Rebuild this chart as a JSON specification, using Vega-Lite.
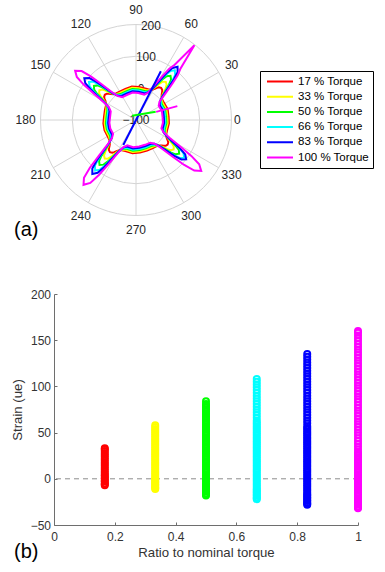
{
"$schema": "https://vega.github.io/schema/vega-lite/v6.json",
"padding": {"left": 10, "top": 0, "right": 2, "bottom": 2},
"background": "white",
"bounds": "flush",
"spacing": 54,
"config": {"view": {"stroke": null}, "font": "Liberation Sans"},
"resolve": {"scale": {"x": "independent", "y": "independent", "color": "independent"}, "legend": {"color": "independent"}},
"vconcat": [
{
"width": 164, "height": 240,
"title": {"text": "(a)", "orient": "bottom", "anchor": "start", "frame": "group", "dx": -40, "offset": -4, "baseline": "alphabetic", "fontSize": 20, "fontWeight": "normal", "font": "Liberation Sans", "color": "black"},
"layer": [
{"data": {"values": [{"ring": 0}, {"ring": 100}, {"ring": 200}]},
 "transform": [{"calculate": "datum.ring + 100", "as": "rr"}, {"calculate": "0", "as": "cx"}, {"calculate": "0", "as": "cy"}],
 "mark": {"type": "point", "shape": "circle", "filled": false, "stroke": "#d4d4d4", "strokeWidth": 1, "opacity": 1},
 "encoding": {
  "x": {"field": "cx", "type": "quantitative", "scale": {"domain": [-257.6, 257.6], "nice": false, "zero": false}, "axis": null},
  "y": {"field": "cy", "type": "quantitative", "scale": {"domain": [-377, 377], "nice": false, "zero": false}, "axis": null},
  "size": {"field": "rr", "type": "quantitative", "scale": {"type": "pow", "exponent": 2, "domain": [0, 300], "range": [0, 36481]}, "legend": null}}},
{"data": {"values": [{"a": 0}, {"a": 30}, {"a": 60}, {"a": 90}, {"a": 120}, {"a": 150}, {"a": 180}, {"a": 210}, {"a": 240}, {"a": 270}, {"a": 300}, {"a": 330}]},
 "transform": [{"calculate": "300*cos(datum.a*PI/180)", "as": "ex"}, {"calculate": "300*sin(datum.a*PI/180)", "as": "ey"}, {"calculate": "0", "as": "cx"}, {"calculate": "0", "as": "cy"}],
 "mark": {"type": "rule", "stroke": "#d4d4d4", "strokeWidth": 1},
 "encoding": {
  "x": {"field": "cx", "type": "quantitative", "scale": {"domain": [-257.6, 257.6], "nice": false, "zero": false}, "axis": null},
  "y": {"field": "cy", "type": "quantitative", "scale": {"domain": [-377, 377], "nice": false, "zero": false}, "axis": null},
  "x2": {"field": "ex"}, "y2": {"field": "ey"}}},
{"data": {"values": [{"v": -100}, {"v": 0}, {"v": 100}, {"v": 200}]},
 "transform": [{"calculate": "(datum.v+100)*cos(81*PI/180)", "as": "lx"}, {"calculate": "(datum.v+100)*sin(81*PI/180)", "as": "ly"}],
 "mark": {"type": "text", "fontSize": 12, "color": "#262626", "align": "center", "baseline": "middle", "font": "Liberation Sans"},
 "encoding": {
  "x": {"field": "lx", "type": "quantitative", "scale": {"domain": [-257.6, 257.6], "nice": false, "zero": false}, "axis": null},
  "y": {"field": "ly", "type": "quantitative", "scale": {"domain": [-377, 377], "nice": false, "zero": false}, "axis": null},
  "text": {"field": "v", "type": "quantitative"}}},
{"data": {"values": [{"a": 30}, {"a": 60}, {"a": 90}, {"a": 120}, {"a": 150}, {"a": 180}, {"a": 210}, {"a": 240}, {"a": 270}, {"a": 300}, {"a": 330}]},
 "transform": [{"calculate": "346.8*cos(datum.a*PI/180)", "as": "lx"}, {"calculate": "346.8*sin(datum.a*PI/180)", "as": "ly"}],
 "mark": {"type": "text", "fontSize": 12, "color": "#262626", "align": "center", "baseline": "middle", "font": "Liberation Sans"},
 "encoding": {
  "x": {"field": "lx", "type": "quantitative", "scale": {"domain": [-257.6, 257.6], "nice": false, "zero": false}, "axis": null},
  "y": {"field": "ly", "type": "quantitative", "scale": {"domain": [-377, 377], "nice": false, "zero": false}, "axis": null},
  "text": {"field": "a", "type": "quantitative"}}},
{"data": {"values": [{"a": 0}]},
 "transform": [{"calculate": "307.9*cos(datum.a*PI/180)", "as": "lx"}, {"calculate": "307.9*sin(datum.a*PI/180)", "as": "ly"}],
 "mark": {"type": "text", "fontSize": 12, "color": "#262626", "align": "left", "baseline": "middle", "font": "Liberation Sans"},
 "encoding": {
  "x": {"field": "lx", "type": "quantitative", "scale": {"domain": [-257.6, 257.6], "nice": false, "zero": false}, "axis": null},
  "y": {"field": "ly", "type": "quantitative", "scale": {"domain": [-377, 377], "nice": false, "zero": false}, "axis": null},
  "text": {"field": "a", "type": "quantitative"}}},
{"data": {"values": [
{"t":17,"a":6,"s":3},{"t":17,"a":19,"s":5},{"t":17,"a":32,"s":3},{"t":17,"a":38,"s":4.5},{"t":17,"a":42,"s":8},{"t":17,"a":45,"s":14.3},{"t":17,"a":47,"s":20.5},{"t":17,"a":49,"s":25.5},{"t":17,"a":52,"s":28},{"t":17,"a":55,"s":25.5},{"t":17,"a":57,"s":20.5},{"t":17,"a":59,"s":14.3},{"t":17,"a":62,"s":8},{"t":17,"a":66,"s":4.5},{"t":17,"a":72,"s":3},{"t":17,"a":85,"s":4},{"t":17,"a":97,"s":6},{"t":17,"a":109,"s":3},{"t":17,"a":121,"s":3},{"t":17,"a":127,"s":4.4},{"t":17,"a":131,"s":7.6},{"t":17,"a":134,"s":13.4},{"t":17,"a":136,"s":19.1},{"t":17,"a":138,"s":23.7},{"t":17,"a":141,"s":26},{"t":17,"a":144,"s":23.7},{"t":17,"a":146,"s":19.1},{"t":17,"a":148,"s":13.4},{"t":17,"a":151,"s":7.6},{"t":17,"a":155,"s":4.4},{"t":17,"a":161,"s":3},{"t":17,"a":174,"s":1},{"t":17,"a":186,"s":3},{"t":17,"a":198,"s":4},{"t":17,"a":211,"s":3},{"t":17,"a":217,"s":4.6},{"t":17,"a":221,"s":8.4},{"t":17,"a":224,"s":15.2},{"t":17,"a":226,"s":21.9},{"t":17,"a":228,"s":27.3},{"t":17,"a":231,"s":30},{"t":17,"a":234,"s":27.3},{"t":17,"a":236,"s":21.9},{"t":17,"a":238,"s":15.2},{"t":17,"a":241,"s":8.4},{"t":17,"a":245,"s":4.6},{"t":17,"a":251,"s":3},{"t":17,"a":264,"s":5},{"t":17,"a":277,"s":3},{"t":17,"a":290,"s":2},{"t":17,"a":302,"s":3},{"t":17,"a":308,"s":4.4},{"t":17,"a":312,"s":7.6},{"t":17,"a":315,"s":13.4},{"t":17,"a":317,"s":19.1},{"t":17,"a":319,"s":23.7},{"t":17,"a":322,"s":26},{"t":17,"a":325,"s":23.7},{"t":17,"a":327,"s":19.1},{"t":17,"a":329,"s":13.4},{"t":17,"a":332,"s":7.6},{"t":17,"a":336,"s":4.4},{"t":17,"a":342,"s":3},{"t":17,"a":354,"s":4},{"t":17,"a":366,"s":3},
{"t":33,"a":6,"s":-1},{"t":33,"a":19,"s":1},{"t":33,"a":32,"s":-1},{"t":33,"a":38,"s":2.2},{"t":33,"a":42,"s":9.6},{"t":33,"a":45,"s":22.9},{"t":33,"a":47,"s":36.1},{"t":33,"a":49,"s":46.7},{"t":33,"a":52,"s":52},{"t":33,"a":55,"s":46.7},{"t":33,"a":57,"s":36.1},{"t":33,"a":59,"s":22.9},{"t":33,"a":62,"s":9.6},{"t":33,"a":66,"s":2.2},{"t":33,"a":72,"s":-1},{"t":33,"a":85,"s":0},{"t":33,"a":97,"s":2},{"t":33,"a":109,"s":-1},{"t":33,"a":121,"s":-1},{"t":33,"a":127,"s":1.9},{"t":33,"a":131,"s":8.8},{"t":33,"a":134,"s":21.1},{"t":33,"a":136,"s":33.3},{"t":33,"a":138,"s":43.1},{"t":33,"a":141,"s":48},{"t":33,"a":144,"s":43.1},{"t":33,"a":146,"s":33.3},{"t":33,"a":148,"s":21.1},{"t":33,"a":151,"s":8.8},{"t":33,"a":155,"s":1.9},{"t":33,"a":161,"s":-1},{"t":33,"a":174,"s":-3},{"t":33,"a":186,"s":-1},{"t":33,"a":198,"s":0},{"t":33,"a":211,"s":-1},{"t":33,"a":217,"s":2.4},{"t":33,"a":221,"s":10.4},{"t":33,"a":224,"s":24.7},{"t":33,"a":226,"s":38.9},{"t":33,"a":228,"s":50.3},{"t":33,"a":231,"s":56},{"t":33,"a":234,"s":50.3},{"t":33,"a":236,"s":38.9},{"t":33,"a":238,"s":24.7},{"t":33,"a":241,"s":10.4},{"t":33,"a":245,"s":2.4},{"t":33,"a":251,"s":-1},{"t":33,"a":264,"s":1},{"t":33,"a":277,"s":-1},{"t":33,"a":290,"s":-2},{"t":33,"a":302,"s":-1},{"t":33,"a":308,"s":2.1},{"t":33,"a":312,"s":9.2},{"t":33,"a":315,"s":22},{"t":33,"a":317,"s":34.7},{"t":33,"a":319,"s":44.9},{"t":33,"a":322,"s":50},{"t":33,"a":325,"s":44.9},{"t":33,"a":327,"s":34.7},{"t":33,"a":329,"s":22},{"t":33,"a":332,"s":9.2},{"t":33,"a":336,"s":2.1},{"t":33,"a":342,"s":-1},{"t":33,"a":354,"s":0},{"t":33,"a":366,"s":-1},
{"t":50,"a":6,"s":-5},{"t":50,"a":19,"s":-3},{"t":50,"a":32,"s":-5},{"t":50,"a":38,"s":-0.1},{"t":50,"a":42,"s":11.2},{"t":50,"a":45,"s":31.5},{"t":50,"a":47,"s":51.7},{"t":50,"a":49,"s":67.9},{"t":50,"a":52,"s":76},{"t":50,"a":55,"s":67.9},{"t":50,"a":57,"s":51.7},{"t":50,"a":59,"s":31.5},{"t":50,"a":62,"s":11.2},{"t":50,"a":66,"s":-0.1},{"t":50,"a":72,"s":-5},{"t":50,"a":85,"s":-4},{"t":50,"a":97,"s":-2},{"t":50,"a":109,"s":-5},{"t":50,"a":121,"s":-5},{"t":50,"a":127,"s":-0.5},{"t":50,"a":131,"s":10},{"t":50,"a":134,"s":28.8},{"t":50,"a":136,"s":47.5},{"t":50,"a":138,"s":62.5},{"t":50,"a":141,"s":70},{"t":50,"a":144,"s":62.5},{"t":50,"a":146,"s":47.5},{"t":50,"a":148,"s":28.8},{"t":50,"a":151,"s":10},{"t":50,"a":155,"s":-0.5},{"t":50,"a":161,"s":-5},{"t":50,"a":174,"s":-7},{"t":50,"a":186,"s":-5},{"t":50,"a":198,"s":-4},{"t":50,"a":211,"s":-5},{"t":50,"a":217,"s":0.2},{"t":50,"a":221,"s":12.4},{"t":50,"a":224,"s":34.2},{"t":50,"a":226,"s":55.9},{"t":50,"a":228,"s":73.3},{"t":50,"a":231,"s":82},{"t":50,"a":234,"s":73.3},{"t":50,"a":236,"s":55.9},{"t":50,"a":238,"s":34.2},{"t":50,"a":241,"s":12.4},{"t":50,"a":245,"s":0.2},{"t":50,"a":251,"s":-5},{"t":50,"a":264,"s":-3},{"t":50,"a":277,"s":-5},{"t":50,"a":290,"s":-6},{"t":50,"a":302,"s":-5},{"t":50,"a":308,"s":-0.4},{"t":50,"a":312,"s":10.4},{"t":50,"a":315,"s":29.7},{"t":50,"a":317,"s":48.9},{"t":50,"a":319,"s":64.3},{"t":50,"a":322,"s":72},{"t":50,"a":325,"s":64.3},{"t":50,"a":327,"s":48.9},{"t":50,"a":329,"s":29.7},{"t":50,"a":332,"s":10.4},{"t":50,"a":336,"s":-0.4},{"t":50,"a":342,"s":-5},{"t":50,"a":354,"s":-4},{"t":50,"a":366,"s":-5},
{"t":66,"a":6,"s":-8},{"t":66,"a":19,"s":-6},{"t":66,"a":32,"s":-8},{"t":66,"a":38,"s":-1.6},{"t":66,"a":42,"s":13.2},{"t":66,"a":45,"s":39.7},{"t":66,"a":47,"s":66.2},{"t":66,"a":49,"s":87.4},{"t":66,"a":52,"s":98},{"t":66,"a":55,"s":87.4},{"t":66,"a":57,"s":66.2},{"t":66,"a":59,"s":39.7},{"t":66,"a":62,"s":13.2},{"t":66,"a":66,"s":-1.6},{"t":66,"a":72,"s":-8},{"t":66,"a":85,"s":-7},{"t":66,"a":97,"s":-5},{"t":66,"a":109,"s":-8},{"t":66,"a":121,"s":-8},{"t":66,"a":127,"s":-2.1},{"t":66,"a":131,"s":11.6},{"t":66,"a":134,"s":36.1},{"t":66,"a":136,"s":60.6},{"t":66,"a":138,"s":80.2},{"t":66,"a":141,"s":90},{"t":66,"a":144,"s":80.2},{"t":66,"a":146,"s":60.6},{"t":66,"a":148,"s":36.1},{"t":66,"a":151,"s":11.6},{"t":66,"a":155,"s":-2.1},{"t":66,"a":161,"s":-8},{"t":66,"a":174,"s":-10},{"t":66,"a":186,"s":-8},{"t":66,"a":198,"s":-7},{"t":66,"a":211,"s":-8},{"t":66,"a":217,"s":-1.3},{"t":66,"a":221,"s":14.4},{"t":66,"a":224,"s":42.4},{"t":66,"a":226,"s":70.4},{"t":66,"a":228,"s":92.8},{"t":66,"a":231,"s":104},{"t":66,"a":234,"s":92.8},{"t":66,"a":236,"s":70.4},{"t":66,"a":238,"s":42.4},{"t":66,"a":241,"s":14.4},{"t":66,"a":245,"s":-1.3},{"t":66,"a":251,"s":-8},{"t":66,"a":264,"s":-6},{"t":66,"a":277,"s":-8},{"t":66,"a":290,"s":-9},{"t":66,"a":302,"s":-8},{"t":66,"a":308,"s":-2},{"t":66,"a":312,"s":12},{"t":66,"a":315,"s":37},{"t":66,"a":317,"s":62},{"t":66,"a":319,"s":82},{"t":66,"a":322,"s":92},{"t":66,"a":325,"s":82},{"t":66,"a":327,"s":62},{"t":66,"a":329,"s":37},{"t":66,"a":332,"s":12},{"t":66,"a":336,"s":-2},{"t":66,"a":342,"s":-8},{"t":66,"a":354,"s":-7},{"t":66,"a":366,"s":-8},
{"t":83,"a":6,"s":-12},{"t":83,"a":19,"s":-10},{"t":83,"a":32,"s":-12},{"t":83,"a":38,"s":-4.6},{"t":83,"a":42,"s":12.8},{"t":83,"a":45,"s":43.8},{"t":83,"a":47,"s":74.8},{"t":83,"a":49,"s":99.6},{"t":83,"a":52,"s":112},{"t":83,"a":55,"s":99.6},{"t":83,"a":57,"s":74.8},{"t":83,"a":59,"s":43.8},{"t":83,"a":62,"s":12.8},{"t":83,"a":66,"s":-4.6},{"t":83,"a":72,"s":-12},{"t":83,"a":85,"s":-11},{"t":83,"a":97,"s":-9},{"t":83,"a":109,"s":-12},{"t":83,"a":121,"s":-12},{"t":83,"a":127,"s":-4.7},{"t":83,"a":131,"s":12.2},{"t":83,"a":134,"s":42.5},{"t":83,"a":136,"s":72.7},{"t":83,"a":138,"s":96.9},{"t":83,"a":141,"s":109},{"t":83,"a":144,"s":96.9},{"t":83,"a":146,"s":72.7},{"t":83,"a":148,"s":42.5},{"t":83,"a":151,"s":12.2},{"t":83,"a":155,"s":-4.7},{"t":83,"a":161,"s":-12},{"t":83,"a":174,"s":-14},{"t":83,"a":186,"s":-12},{"t":83,"a":198,"s":-11},{"t":83,"a":211,"s":-12},{"t":83,"a":217,"s":-4.2},{"t":83,"a":221,"s":14},{"t":83,"a":224,"s":46.5},{"t":83,"a":226,"s":79},{"t":83,"a":228,"s":105},{"t":83,"a":231,"s":118},{"t":83,"a":234,"s":105},{"t":83,"a":236,"s":79},{"t":83,"a":238,"s":46.5},{"t":83,"a":241,"s":14},{"t":83,"a":245,"s":-4.2},{"t":83,"a":251,"s":-12},{"t":83,"a":264,"s":-10},{"t":83,"a":277,"s":-12},{"t":83,"a":290,"s":-13},{"t":83,"a":302,"s":-12},{"t":83,"a":308,"s":-5.3},{"t":83,"a":312,"s":10.4},{"t":83,"a":315,"s":38.4},{"t":83,"a":317,"s":66.4},{"t":83,"a":319,"s":88.8},{"t":83,"a":322,"s":100},{"t":83,"a":325,"s":88.8},{"t":83,"a":327,"s":66.4},{"t":83,"a":329,"s":38.4},{"t":83,"a":332,"s":10.4},{"t":83,"a":336,"s":-5.3},{"t":83,"a":342,"s":-12},{"t":83,"a":354,"s":-11},{"t":83,"a":366,"s":-12},
{"t":100,"a":6,"s":-16},{"t":100,"a":19,"s":-14},{"t":100,"a":32,"s":-16},{"t":100,"a":38,"s":-6},{"t":100,"a":42,"s":24},{"t":100,"a":45,"s":62},{"t":100,"a":47,"s":92},{"t":100,"a":49,"s":112},{"t":100,"a":52,"s":198},{"t":100,"a":55,"s":112},{"t":100,"a":57,"s":92},{"t":100,"a":59,"s":62},{"t":100,"a":62,"s":24},{"t":100,"a":66,"s":-6},{"t":100,"a":72,"s":-16},{"t":100,"a":85,"s":-15},{"t":100,"a":97,"s":-13},{"t":100,"a":109,"s":-16},{"t":100,"a":121,"s":-16},{"t":100,"a":127,"s":-6.3},{"t":100,"a":131,"s":16.4},{"t":100,"a":134,"s":56.9},{"t":100,"a":136,"s":97.4},{"t":100,"a":138,"s":129.8},{"t":100,"a":141,"s":146},{"t":100,"a":144,"s":129.8},{"t":100,"a":146,"s":97.4},{"t":100,"a":148,"s":56.9},{"t":100,"a":151,"s":16.4},{"t":100,"a":155,"s":-6.3},{"t":100,"a":161,"s":-16},{"t":100,"a":174,"s":-18},{"t":100,"a":186,"s":-16},{"t":100,"a":198,"s":-15},{"t":100,"a":211,"s":-16},{"t":100,"a":217,"s":-5.3},{"t":100,"a":221,"s":19.6},{"t":100,"a":224,"s":64.1},{"t":100,"a":226,"s":108.6},{"t":100,"a":228,"s":144.2},{"t":100,"a":231,"s":162},{"t":100,"a":234,"s":144.2},{"t":100,"a":236,"s":108.6},{"t":100,"a":238,"s":64.1},{"t":100,"a":241,"s":19.6},{"t":100,"a":245,"s":-5.3},{"t":100,"a":251,"s":-16},{"t":100,"a":264,"s":-14},{"t":100,"a":277,"s":-16},{"t":100,"a":290,"s":-17},{"t":100,"a":302,"s":-16},{"t":100,"a":308,"s":-5.4},{"t":100,"a":312,"s":19.2},{"t":100,"a":315,"s":63.2},{"t":100,"a":317,"s":107.2},{"t":100,"a":319,"s":142.4},{"t":100,"a":322,"s":160},{"t":100,"a":325,"s":142.4},{"t":100,"a":327,"s":107.2},{"t":100,"a":329,"s":63.2},{"t":100,"a":332,"s":19.2},{"t":100,"a":336,"s":-5.4},{"t":100,"a":342,"s":-16},{"t":100,"a":354,"s":-15},{"t":100,"a":366,"s":-16}
]},
 "transform": [{"calculate": "(datum.s+100)*cos(datum.a*PI/180)", "as": "px"}, {"calculate": "(datum.s+100)*sin(datum.a*PI/180)", "as": "py"}],
 "mark": {"type": "line", "strokeWidth": 2},
 "encoding": {
  "x": {"field": "px", "type": "quantitative", "scale": {"domain": [-257.6, 257.6], "nice": false, "zero": false}, "axis": null},
  "y": {"field": "py", "type": "quantitative", "scale": {"domain": [-377, 377], "nice": false, "zero": false}, "axis": null},
  "order": {"field": "a", "type": "quantitative"},
  "color": {"field": "t", "type": "nominal",
   "scale": {"domain": [17, 33, 50, 66, 83, 100], "range": ["#ff0000", "#ffff00", "#00ff00", "#00ffff", "#0000ff", "#ff00ff"]},
   "legend": {"orient": "none", "legendX": 206, "legendY": 71, "direction": "vertical", "title": null,
    "labelExpr": "datum.label + ' % Torque'", "symbolType": "stroke", "symbolSize": 676, "symbolStrokeWidth": 2,
    "clipHeight": 13, "rowPadding": 2.2, "labelFontSize": 11.5, "labelFont": "Liberation Sans", "labelColor": "black",
    "strokeColor": "black", "fillColor": "white", "padding": 4, "labelOffset": 4, "symbolOffset": 2, "cornerRadius": 0}}}},
{"data": {"values": [
{"t":83,"i":0,"a":243,"s":-12},{"t":83,"i":1,"a":63,"s":72},
{"t":50,"i":0,"a":133,"s":-82},{"t":50,"i":1,"a":23,"s":-33},
{"t":100,"i":0,"a":22,"s":-32},{"t":100,"i":1,"a":18.6,"s":37}
]},
 "transform": [{"calculate": "(datum.s+100)*cos(datum.a*PI/180)", "as": "px"}, {"calculate": "(datum.s+100)*sin(datum.a*PI/180)", "as": "py"}],
 "mark": {"type": "line", "strokeWidth": 2},
 "encoding": {
  "x": {"field": "px", "type": "quantitative", "scale": {"domain": [-257.6, 257.6], "nice": false, "zero": false}, "axis": null},
  "y": {"field": "py", "type": "quantitative", "scale": {"domain": [-377, 377], "nice": false, "zero": false}, "axis": null},
  "order": {"field": "i", "type": "quantitative"},
  "color": {"field": "t", "type": "nominal", "scale": {"domain": [17, 33, 50, 66, 83, 100], "range": ["#ff0000", "#ffff00", "#00ff00", "#00ffff", "#0000ff", "#ff00ff"]}}}}
]
},
{
"width": 304, "height": 231,
"title": {"text": "(b)", "orient": "bottom", "anchor": "start", "frame": "group", "dx": -40, "offset": 0, "baseline": "alphabetic", "fontSize": 20, "fontWeight": "normal", "font": "Liberation Sans", "color": "black"},
"layer": [
{"data": {"values": [{"ref": 0}]},
 "mark": {"type": "rule", "stroke": "#8c8c8c", "strokeDash": [5, 4], "strokeWidth": 1},
 "encoding": {"y": {"field": "ref", "type": "quantitative", "scale": {"domain": [-50, 200], "nice": false, "zero": false}}}},
{"data": {"values": [
{"r":0.167,"v":-7},{"r":0.167,"v":-6},{"r":0.167,"v":-5},{"r":0.167,"v":-3},{"r":0.167,"v":-2},{"r":0.167,"v":0},{"r":0.167,"v":1},{"r":0.167,"v":3},{"r":0.167,"v":4},{"r":0.167,"v":6},{"r":0.167,"v":8},{"r":0.167,"v":10},{"r":0.167,"v":12},{"r":0.167,"v":14},{"r":0.167,"v":16},{"r":0.167,"v":18},{"r":0.167,"v":20},{"r":0.167,"v":22},{"r":0.167,"v":24},{"r":0.167,"v":26},{"r":0.167,"v":28},{"r":0.167,"v":30},{"r":0.167,"v":32},{"r":0.167,"v":33},
{"r":0.333,"v":-11},{"r":0.333,"v":-10},{"r":0.333,"v":-9},{"r":0.333,"v":-7},{"r":0.333,"v":-6},{"r":0.333,"v":-4},{"r":0.333,"v":-3},{"r":0.333,"v":-1},{"r":0.333,"v":0},{"r":0.333,"v":2},{"r":0.333,"v":4},{"r":0.333,"v":6},{"r":0.333,"v":8},{"r":0.333,"v":10},{"r":0.333,"v":12},{"r":0.333,"v":14},{"r":0.333,"v":16},{"r":0.333,"v":18},{"r":0.333,"v":20},{"r":0.333,"v":22},{"r":0.333,"v":24},{"r":0.333,"v":26},{"r":0.333,"v":28},{"r":0.333,"v":30},{"r":0.333,"v":32},{"r":0.333,"v":34},{"r":0.333,"v":36},{"r":0.333,"v":38},{"r":0.333,"v":40},{"r":0.333,"v":42},{"r":0.333,"v":44},{"r":0.333,"v":46},{"r":0.333,"v":48},{"r":0.333,"v":50},{"r":0.333,"v":52},{"r":0.333,"v":54},{"r":0.333,"v":56},{"r":0.333,"v":58},
{"r":0.5,"v":-18},{"r":0.5,"v":-17},{"r":0.5,"v":-16},{"r":0.5,"v":-14},{"r":0.5,"v":-13},{"r":0.5,"v":-11},{"r":0.5,"v":-10},{"r":0.5,"v":-8},{"r":0.5,"v":-7},{"r":0.5,"v":-5},{"r":0.5,"v":-3},{"r":0.5,"v":-1},{"r":0.5,"v":1},{"r":0.5,"v":3},{"r":0.5,"v":5},{"r":0.5,"v":7},{"r":0.5,"v":9},{"r":0.5,"v":11},{"r":0.5,"v":13},{"r":0.5,"v":15},{"r":0.5,"v":17},{"r":0.5,"v":19},{"r":0.5,"v":21},{"r":0.5,"v":23},{"r":0.5,"v":25},{"r":0.5,"v":27},{"r":0.5,"v":29},{"r":0.5,"v":31},{"r":0.5,"v":33},{"r":0.5,"v":35},{"r":0.5,"v":37},{"r":0.5,"v":39},{"r":0.5,"v":41},{"r":0.5,"v":43},{"r":0.5,"v":45},{"r":0.5,"v":47},{"r":0.5,"v":49},{"r":0.5,"v":51},{"r":0.5,"v":53},{"r":0.5,"v":55},{"r":0.5,"v":57},{"r":0.5,"v":59},{"r":0.5,"v":61},{"r":0.5,"v":63},{"r":0.5,"v":65},{"r":0.5,"v":67},{"r":0.5,"v":69},{"r":0.5,"v":71},{"r":0.5,"v":73},{"r":0.5,"v":75},{"r":0.5,"v":77},{"r":0.5,"v":79},{"r":0.5,"v":81},{"r":0.5,"v":84},
{"r":0.667,"v":-22},{"r":0.667,"v":-21},{"r":0.667,"v":-20},{"r":0.667,"v":-18},{"r":0.667,"v":-17},{"r":0.667,"v":-15},{"r":0.667,"v":-14},{"r":0.667,"v":-12},{"r":0.667,"v":-11},{"r":0.667,"v":-9},{"r":0.667,"v":-7},{"r":0.667,"v":-5},{"r":0.667,"v":-3},{"r":0.667,"v":-1},{"r":0.667,"v":1},{"r":0.667,"v":3},{"r":0.667,"v":5},{"r":0.667,"v":7},{"r":0.667,"v":9},{"r":0.667,"v":11},{"r":0.667,"v":13},{"r":0.667,"v":15},{"r":0.667,"v":17},{"r":0.667,"v":19},{"r":0.667,"v":21},{"r":0.667,"v":23},{"r":0.667,"v":25},{"r":0.667,"v":27},{"r":0.667,"v":29},{"r":0.667,"v":31},{"r":0.667,"v":33},{"r":0.667,"v":35},{"r":0.667,"v":37},{"r":0.667,"v":39},{"r":0.667,"v":41},{"r":0.667,"v":43},{"r":0.667,"v":45},{"r":0.667,"v":47},{"r":0.667,"v":49},{"r":0.667,"v":51},{"r":0.667,"v":53},{"r":0.667,"v":55},{"r":0.667,"v":57},{"r":0.667,"v":59},{"r":0.667,"v":61},{"r":0.667,"v":63},{"r":0.667,"v":66},{"r":0.667,"v":69},{"r":0.667,"v":72},{"r":0.667,"v":75},{"r":0.667,"v":78},{"r":0.667,"v":81},{"r":0.667,"v":84},{"r":0.667,"v":87},{"r":0.667,"v":90},{"r":0.667,"v":93},{"r":0.667,"v":96},{"r":0.667,"v":99},{"r":0.667,"v":102},{"r":0.667,"v":105},{"r":0.667,"v":108},
{"r":0.833,"v":-28},{"r":0.833,"v":-27},{"r":0.833,"v":-26},{"r":0.833,"v":-24},{"r":0.833,"v":-23},{"r":0.833,"v":-21},{"r":0.833,"v":-20},{"r":0.833,"v":-18},{"r":0.833,"v":-17},{"r":0.833,"v":-15},{"r":0.833,"v":-13},{"r":0.833,"v":-11},{"r":0.833,"v":-9},{"r":0.833,"v":-7},{"r":0.833,"v":-5},{"r":0.833,"v":-3},{"r":0.833,"v":-1},{"r":0.833,"v":1},{"r":0.833,"v":3},{"r":0.833,"v":5},{"r":0.833,"v":7},{"r":0.833,"v":9},{"r":0.833,"v":11},{"r":0.833,"v":13},{"r":0.833,"v":15},{"r":0.833,"v":17},{"r":0.833,"v":19},{"r":0.833,"v":21},{"r":0.833,"v":23},{"r":0.833,"v":25},{"r":0.833,"v":27},{"r":0.833,"v":29},{"r":0.833,"v":31},{"r":0.833,"v":33},{"r":0.833,"v":35},{"r":0.833,"v":37},{"r":0.833,"v":39},{"r":0.833,"v":41},{"r":0.833,"v":43},{"r":0.833,"v":45},{"r":0.833,"v":47},{"r":0.833,"v":49},{"r":0.833,"v":51},{"r":0.833,"v":53},{"r":0.833,"v":55},{"r":0.833,"v":57},{"r":0.833,"v":60},{"r":0.833,"v":63},{"r":0.833,"v":66},{"r":0.833,"v":69},{"r":0.833,"v":72},{"r":0.833,"v":75},{"r":0.833,"v":78},{"r":0.833,"v":81},{"r":0.833,"v":84},{"r":0.833,"v":87},{"r":0.833,"v":90},{"r":0.833,"v":93},{"r":0.833,"v":96},{"r":0.833,"v":99},{"r":0.833,"v":102},{"r":0.833,"v":105},{"r":0.833,"v":108},{"r":0.833,"v":111},{"r":0.833,"v":114},{"r":0.833,"v":117},{"r":0.833,"v":120},{"r":0.833,"v":123},{"r":0.833,"v":126},{"r":0.833,"v":129},{"r":0.833,"v":132},{"r":0.833,"v":135},
{"r":1,"v":-32},{"r":1,"v":-31},{"r":1,"v":-30},{"r":1,"v":-28},{"r":1,"v":-27},{"r":1,"v":-25},{"r":1,"v":-24},{"r":1,"v":-22},{"r":1,"v":-21},{"r":1,"v":-19},{"r":1,"v":-17},{"r":1,"v":-15},{"r":1,"v":-13},{"r":1,"v":-11},{"r":1,"v":-9},{"r":1,"v":-7},{"r":1,"v":-5},{"r":1,"v":-3},{"r":1,"v":-1},{"r":1,"v":1},{"r":1,"v":3},{"r":1,"v":5},{"r":1,"v":7},{"r":1,"v":9},{"r":1,"v":11},{"r":1,"v":13},{"r":1,"v":15},{"r":1,"v":17},{"r":1,"v":19},{"r":1,"v":21},{"r":1,"v":23},{"r":1,"v":25},{"r":1,"v":27},{"r":1,"v":29},{"r":1,"v":32},{"r":1,"v":35},{"r":1,"v":38},{"r":1,"v":41},{"r":1,"v":44},{"r":1,"v":47},{"r":1,"v":50},{"r":1,"v":53},{"r":1,"v":56},{"r":1,"v":59},{"r":1,"v":62},{"r":1,"v":65},{"r":1,"v":68},{"r":1,"v":71},{"r":1,"v":74},{"r":1,"v":77},{"r":1,"v":80},{"r":1,"v":83},{"r":1,"v":86},{"r":1,"v":89},{"r":1,"v":92},{"r":1,"v":95},{"r":1,"v":98},{"r":1,"v":101},{"r":1,"v":104},{"r":1,"v":107},{"r":1,"v":110},{"r":1,"v":113},{"r":1,"v":116},{"r":1,"v":119},{"r":1,"v":122},{"r":1,"v":125},{"r":1,"v":128},{"r":1,"v":131},{"r":1,"v":134},{"r":1,"v":137},{"r":1,"v":140},{"r":1,"v":143},{"r":1,"v":146},{"r":1,"v":149},{"r":1,"v":152},{"r":1,"v":155},{"r":1,"v":158},{"r":1,"v":160}
]},
 "mark": {"type": "point", "shape": "circle", "filled": false, "size": 36, "strokeWidth": 2, "opacity": 1},
 "encoding": {
  "x": {"field": "r", "type": "quantitative", "scale": {"domain": [0, 1], "nice": false, "zero": false},
   "axis": {"values": [0, 0.2, 0.4, 0.6, 0.8, 1], "format": "~g", "title": "Ratio to nominal torque", "grid": false,
    "domainColor": "#6e6e6e", "tickColor": "#6e6e6e", "tickSize": -3, "labelPadding": 9, "labelFontSize": 12, "labelColor": "#333333",
    "labelFont": "Liberation Sans", "titleFont": "Liberation Sans", "titleFontSize": 13.2, "titleFontWeight": "normal", "titleColor": "#333333", "titlePadding": 4, "labelFlush": false}},
  "y": {"field": "v", "type": "quantitative", "scale": {"domain": [-50, 200], "nice": false, "zero": false},
   "axis": {"values": [-50, 0, 50, 100, 150, 200], "title": "Strain (ue)", "grid": false,
    "domainColor": "#6e6e6e", "tickColor": "#6e6e6e", "tickSize": -3, "labelPadding": 6.5, "labelFontSize": 12, "labelColor": "#333333",
    "labelFont": "Liberation Sans", "titleFont": "Liberation Sans", "titleFontSize": 13.2, "titleFontWeight": "normal", "titleColor": "#333333", "titlePadding": 5.5, "labelFlush": false}},
  "color": {"field": "r", "type": "nominal", "scale": {"domain": [0.167, 0.333, 0.5, 0.667, 0.833, 1], "range": ["#ff0000", "#ffff00", "#00ff00", "#00ffff", "#0000ff", "#ff00ff"]}, "legend": null}}}
]
}
]
}
